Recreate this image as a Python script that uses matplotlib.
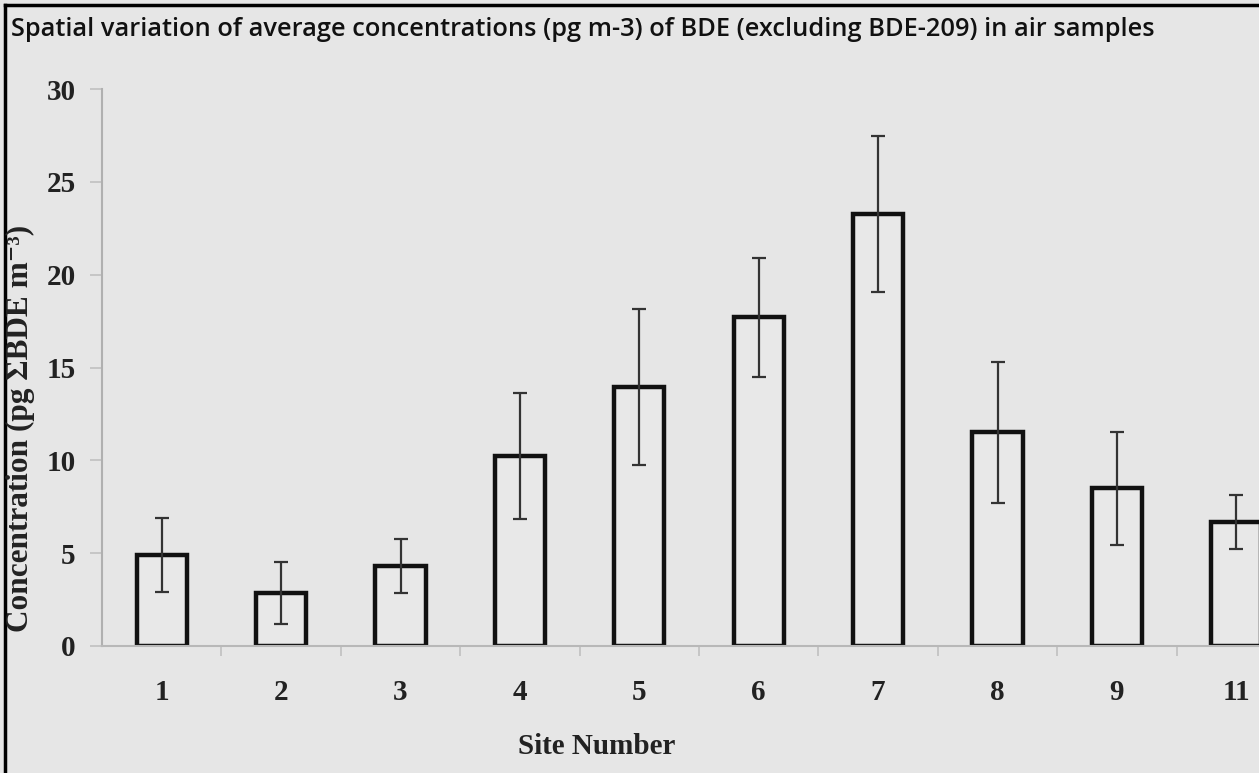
import matplotlib.pyplot as plt
from matplotlib.lines import Line2D
from matplotlib.ticker import FixedLocator

# ===================
# DATA
# ===================
sites = ["1", "2", "3", "4", "5", "6", "7", "8", "9", "11"]
concentration = [4.9, 2.85, 4.3, 10.25, 13.95, 17.7, 23.25, 11.5, 8.5, 6.7]
error = [2.0, 1.65, 1.45, 3.4, 4.2, 3.2, 4.2, 3.8, 3.05, 1.45]

TITLE = "Spatial variation of average concentrations (pg m-3) of BDE (excluding BDE-209) in air samples"
BG = "#e6e6e6"
SERIF = ["Liberation Serif", "DejaVu Serif"]

# ===================
# MAIN
# ===================
fig = plt.figure(figsize=(12.59, 7.73), dpi=100, facecolor=BG)
ax = fig.add_axes([102 / 1259, 1 - 646 / 773, 1 - 102 / 1259, (646 - 89) / 773])
ax.set_facecolor(BG)

x = list(range(len(sites)))
ax.bar(x, concentration, width=0.42, facecolor="#e8e8e8", edgecolor="#111111",
       linewidth=3.2, zorder=2)
ax.errorbar(x, concentration, yerr=error, fmt="none", ecolor="#333333",
            elinewidth=1.6, capsize=4.7, capthick=1.6, zorder=3)

ax.set_xlim(-0.5, 9.19)
ax.set_ylim(0, 30)

# axis lines
for side in ["top", "right"]:
    ax.spines[side].set_visible(False)
ax.spines["left"].set_color("#b0b0b0")
ax.spines["bottom"].set_color("#b8b8b8")
ax.spines["left"].set_linewidth(1.5)
ax.spines["bottom"].set_linewidth(1.5)

ax.set_yticks([0, 5, 10, 15, 20, 25, 30])
ax.set_yticklabels(["0", "5", "10", "15", "20", "25", "30"])
ax.set_xticks(x)
ax.set_xticklabels(sites)
ax.tick_params(axis="x", length=0, pad=24)
ax.xaxis.set_minor_locator(FixedLocator([i + 0.5 for i in x]))
ax.tick_params(axis="x", which="minor", length=7, color="#c0c0c0", width=1.2, direction="out")
ax.tick_params(axis="y", length=9, color="#c0c0c0", width=1.2, pad=10)

for lbl in ax.get_xticklabels() + ax.get_yticklabels():
    lbl.set_family(SERIF)
    lbl.set_fontweight("bold")
    lbl.set_fontsize(21)
    lbl.set_color("#222222")

fig.text(597 / 1259, 1 - 747 / 773, "Site Number", family=SERIF, fontweight="bold",
         fontsize=21, color="#222222", ha="center", va="center")
fig.text(20 / 1259, 1 - 428 / 773, "Concentration (pg \u03a3BDE m\u207b\u00b3)",
         family=SERIF, fontweight="bold", fontsize=22.5, color="#222222",
         rotation=90, ha="center", va="center")

# title
fig.text(11 / 1259, 1 - 29 / 773, TITLE, family=["Open Sans", "DejaVu Sans"],
         fontweight="semibold", fontsize=18.3, color="#111111",
         ha="left", va="center")

# frame: top and left border lines
fig.add_artist(Line2D([5 / 1259, 1], [1 - 5 / 773, 1 - 5 / 773],
                      transform=fig.transFigure, color="black", linewidth=2.5))
fig.add_artist(Line2D([5 / 1259, 5 / 1259], [0, 1 - 5 / 773],
                      transform=fig.transFigure, color="black", linewidth=2.5))

fig.savefig("out.png", dpi=100, facecolor=BG)
